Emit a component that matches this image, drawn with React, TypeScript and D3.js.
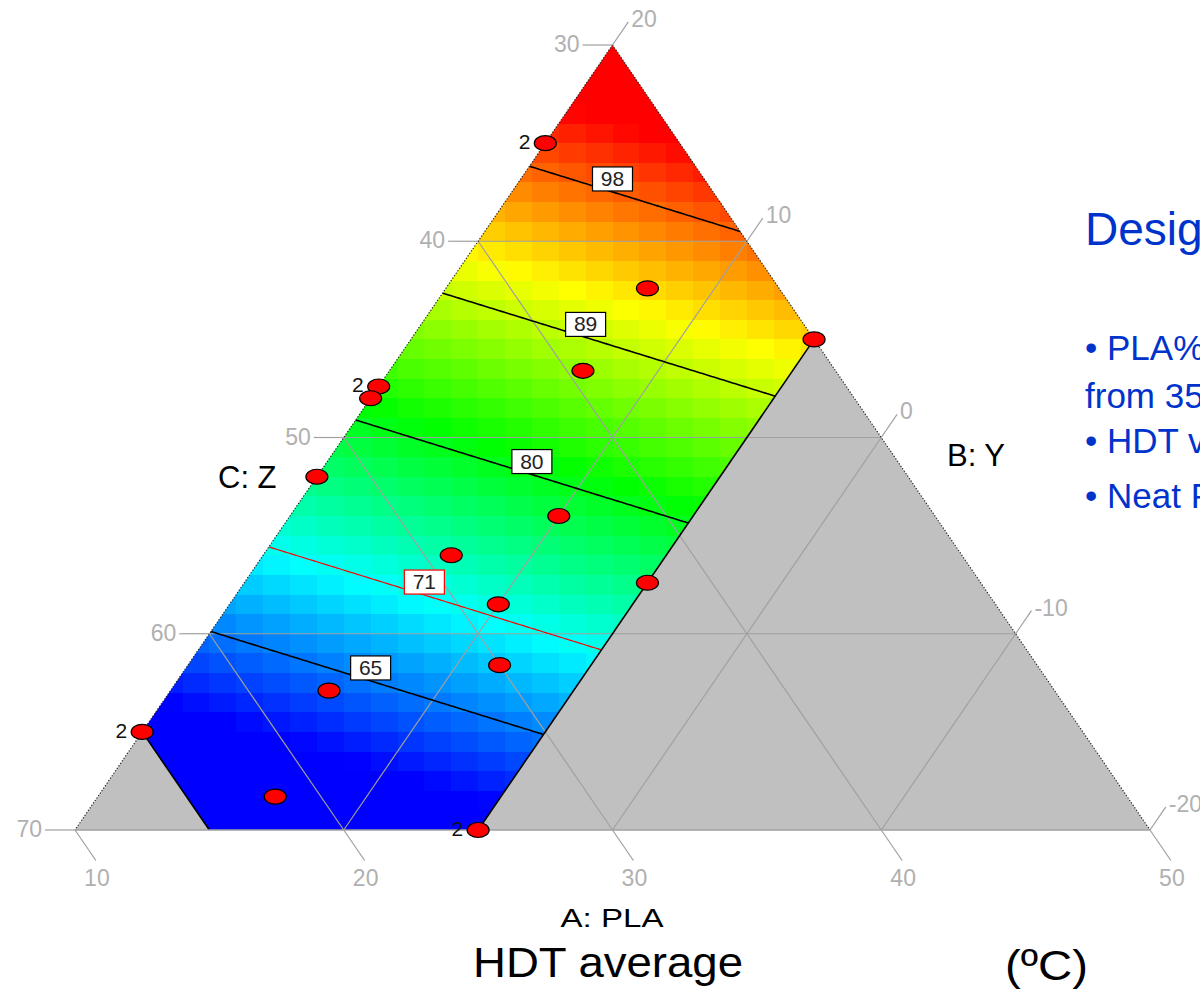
import React from 'react';
import * as d3 from 'd3';

// compositions are [A, B, C] in %, A + B + C = 100
const triangleVertices = [[50, 20, 30], [10, 20, 70], [50, -20, 70]];
const regionVertices = [[50, 20, 30], [15, 20, 65], [15, 15, 70], [25, 5, 70], [50, 5, 45]];

const aTicks = [10, 20, 30, 40, 50];
const bTicks = [20, 10, 0, -10, -20];
const cTicks = [30, 40, 50, 60, 70];
const aGrid = [20, 30, 40];
const bGrid = [10, 0, -10];
const cGrid = [40, 50, 60];

// linear mixture model for HDT (ºC), coefficients for A, B, C
const modelCoef = [1.581, 1.094, 0.189];

const contourLevels = [65, 71, 80, 89, 98];
const labelAminusB = [12, 16, 24, 28, 30];
const highlightLevel = 71;

const colorDomain = [60, 70.5, 81, 91.5, 102];
const colorStops = ['#0000ff', '#00ffff', '#00ff00', '#ffff00', '#ff0000'];

const designPoints = [
  [45, 20, 35], [45.1, 12.5, 42.4], [50, 5, 45], [40.6, 12.8, 46.6],
  [32.6, 20, 47.4], [32.0, 20, 48.0], [28, 20, 52], [36, 10, 54],
  [31, 13, 56], [37.6, 5, 57.4], [31.5, 10, 58.5], [30, 8.4, 61.6],
  [23, 14.1, 62.9], [15, 20, 65], [18.3, 13.4, 68.3], [25, 5, 70],
];
const replicates = [2, 1, 1, 1, 2, 1, 1, 1, 1, 1, 1, 1, 1, 2, 1, 2];

const notes = [
  { text: 'Design of Experiments', size: 46, y: 245 },
  { text: '\u2022  PLA% varied', size: 35, y: 360 },
  { text: 'from 35 to 50%', size: 35, y: 408 },
  { text: '\u2022 HDT values', size: 35, y: 453 },
  { text: '\u2022 Neat PLA', size: 35, y: 508 },
];

const FONT = '"Liberation Sans", Arial, sans-serif';
const GRID = '#a0a0a0';
const TICK_TEXT = '#b0b0b0';

const x = d3.scaleLinear().domain([-10, 70]).range([75, 1150]); // A - B
const y = d3.scaleLinear().domain([30, 70]).range([45, 830]); // C
const project = (p: number[]) => [x(p[0] - p[1]), y(p[2])];
const toComp = (px: number, py: number) => {
  const c = y.invert(py);
  const d = x.invert(px);
  return [(100 - c + d) / 2, (100 - c - d) / 2, c];
};
const hdt = (p: number[]) => modelCoef[0] * p[0] + modelCoef[1] * p[1] + modelCoef[2] * p[2];
const color = d3.scaleLinear<string>().domain(colorDomain).range(colorStops).clamp(true);

const line = d3.line();
const poly = (pts: number[][]) => line(pts.map(project) as [number, number][]) + 'Z';

function unit(from: number[], to: number[], len: number) {
  const p0 = project(from), p1 = project(to);
  const dx = p1[0] - p0[0], dy = p1[1] - p0[1];
  const n = Math.hypot(dx, dy);
  return [p0[0], p0[1], p0[0] + (dx / n) * len, p0[1] + (dy / n) * len];
}

export default function App() {
  // coloured cells
  const nCols = 40, nRows = 40;
  const cw = (x.range()[1] - x.range()[0]) / nCols;
  const ch = (y.range()[1] - y.range()[0]) / nRows;
  const cells: { x: number; y: number; fill: string }[] = [];
  for (let r = 0; r < nRows; r++) {
    for (let c = 0; c < nCols; c++) {
      const cx = x.range()[0] + c * cw, cy = y.range()[0] + r * ch;
      cells.push({ x: cx, y: cy, fill: color(hdt(toComp(cx + cw / 2, cy + ch / 2))) });
    }
  }

  // contour lines
  const step = 3, gx0 = 65, gy0 = 35;
  const nx = Math.ceil(1100 / step), ny = Math.ceil(810 / step);
  const values = new Array(nx * ny);
  for (let j = 0; j < ny; j++)
    for (let i = 0; i < nx; i++)
      values[i + j * nx] = hdt(toComp(gx0 + (i + 0.5) * step, gy0 + (j + 0.5) * step));
  const contours = d3.contours().size([nx, ny]).thresholds(contourLevels)(values);
  const tf = d3.geoTransform({
    point(px: number, py: number) {
      (this as any).stream.point(gx0 + px * step, gy0 + py * step);
    },
  });
  const cpath = d3.geoPath(tf);

  const [a, b, c] = modelCoef;
  const labels = contourLevels.map((lv, i) => {
    const d = labelAminusB[i];
    const cc = (lv - 50 * (a + b) - ((a - b) * d) / 2) / (c - (a + b) / 2);
    const p = project([(100 - cc + d) / 2, (100 - cc - d) / 2, cc]);
    return { lv, x: p[0], y: p[1] };
  });

  const tv = triangleVertices.map(project);

  return (
    <svg width={1200} height={993} style={{ position: 'absolute', left: 0, top: 0, display: 'block', background: '#fff' }}>
      <defs>
        <clipPath id="region">
          <path d={poly(regionVertices)} />
        </clipPath>
      </defs>

      <path d={poly(triangleVertices)} fill="#c0c0c0" />

      <g clipPath="url(#region)" shapeRendering="crispEdges">
        {cells.map((d, i) => (
          <rect key={i} x={d.x} y={d.y} width={cw + 0.6} height={ch + 0.6} fill={d.fill} />
        ))}
      </g>

      {/* grid lines */}
      <g stroke={GRID} strokeWidth={1.2} fill="none">
        {cGrid.map((v) => {
          const p0 = project([80 - v, 20, v]), p1 = project([50, 50 - v, v]);
          return <line key={'c' + v} x1={p0[0]} y1={p0[1]} x2={p1[0]} y2={p1[1]} />;
        })}
        {aGrid.map((v) => {
          const p0 = project([v, 30 - v, 70]), p1 = project([v, 20, 80 - v]);
          return <line key={'a' + v} x1={p0[0]} y1={p0[1]} x2={p1[0]} y2={p1[1]} />;
        })}
        {bGrid.map((v) => {
          const p0 = project([50, v, 50 - v]), p1 = project([30 - v, v, 70]);
          return <line key={'b' + v} x1={p0[0]} y1={p0[1]} x2={p1[0]} y2={p1[1]} />;
        })}
      </g>

      {/* contours */}
      <g clipPath="url(#region)" fill="none">
        {contours.map((cn) => (
          <path key={cn.value} d={cpath(cn as any) || ''}
            stroke={cn.value === highlightLevel ? '#ff0000' : '#000'}
            strokeWidth={cn.value === highlightLevel ? 1.2 : 1.6} />
        ))}
      </g>

      {/* design region constraint edges */}
      <g stroke="#000" strokeWidth={1.6}>
        {[[1, 2], [3, 4]].map(([i, j]) => {
          const p0 = project(regionVertices[i]), p1 = project(regionVertices[j]);
          return <line key={i} x1={p0[0]} y1={p0[1]} x2={p1[0]} y2={p1[1]} />;
        })}
      </g>

      {/* triangle edges */}
      <line x1={tv[1][0]} y1={tv[1][1]} x2={tv[2][0]} y2={tv[2][1]} stroke={GRID} strokeWidth={1.5} />
      <g stroke="#222" strokeWidth={1.2} strokeDasharray="1.2,1.8">
        <line x1={tv[0][0]} y1={tv[0][1]} x2={tv[1][0]} y2={tv[1][1]} />
        <line x1={tv[0][0]} y1={tv[0][1]} x2={tv[2][0]} y2={tv[2][1]} />
      </g>

      {/* contour labels */}
      {labels.map((l) => (
        <g key={l.lv}>
          <rect x={l.x - 20} y={l.y - 25} width={40} height={24} fill="#fff"
            stroke={l.lv === highlightLevel ? '#ff0000' : '#000'} strokeWidth={1.2} />
          <text x={l.x} y={l.y - 6} textAnchor="middle" fontFamily={FONT} fontSize={21} fill="#222">{l.lv}</text>
        </g>
      ))}

      {/* design points */}
      {designPoints.map((p, i) => {
        const [px, py] = project(p);
        return (
          <g key={i}>
            <ellipse cx={px} cy={py} rx={11} ry={7.5} fill="#ff0000" stroke="#000" strokeWidth={1.2} />
            {replicates[i] > 1 && (
              <text x={px - 15} y={py + 6} textAnchor="end" fontFamily={FONT} fontSize={21} fill="#111">{replicates[i]}</text>
            )}
          </g>
        );
      })}

      {/* ticks */}
      <g fontFamily={FONT} fontSize={23} fill={TICK_TEXT}>
        {cTicks.map((v) => {
          const t = unit([80 - v, 20, v], [79 - v, 21, v], 30);
          return (
            <g key={'ct' + v}>
              <line x1={t[0]} y1={t[1]} x2={t[2]} y2={t[3]} stroke={GRID} strokeWidth={1.2} />
              <text x={t[2] - 3} y={t[3] + 7} textAnchor="end">{v}</text>
            </g>
          );
        })}
        {bTicks.map((v) => {
          const t = unit([50, v, 50 - v], [51, v, 49 - v], 28);
          return (
            <g key={'bt' + v}>
              <line x1={t[0]} y1={t[1]} x2={t[2]} y2={t[3]} stroke={GRID} strokeWidth={1.2} />
              <text x={t[2] + 3} y={t[3] + 5}>{v}</text>
            </g>
          );
        })}
        {aTicks.map((v) => {
          const t = unit([v, 30 - v, 70], [v, 29 - v, 71], 37);
          return (
            <g key={'at' + v}>
              <line x1={t[0]} y1={t[1]} x2={t[2]} y2={t[3]} stroke={GRID} strokeWidth={1.2} />
              <text x={t[2] + 1} y={t[3] + 25} textAnchor="middle">{v}</text>
            </g>
          );
        })}
      </g>

      {/* axis titles */}
      <g fontFamily={FONT} fill="#000">
        <text x={612} y={927} textAnchor="middle" fontSize={26} textLength={103} lengthAdjust="spacingAndGlyphs">A: PLA</text>
        <text x={947} y={466} fontSize={31}>B: Y</text>
        <text x={218} y={488} fontSize={31}>C: Z</text>
        <text x={473} y={977} fontSize={43} textLength={270} lengthAdjust="spacingAndGlyphs">HDT average</text>
        <text x={1005} y={980} fontSize={43} textLength={83} lengthAdjust="spacingAndGlyphs">(ºC)</text>
      </g>

      <g fontFamily={FONT} fill="#0033cc">
        {notes.map((n) => (
          <text key={n.text} x={1085} y={n.y} fontSize={n.size}>{n.text}</text>
        ))}
      </g>
    </svg>
  );
}
